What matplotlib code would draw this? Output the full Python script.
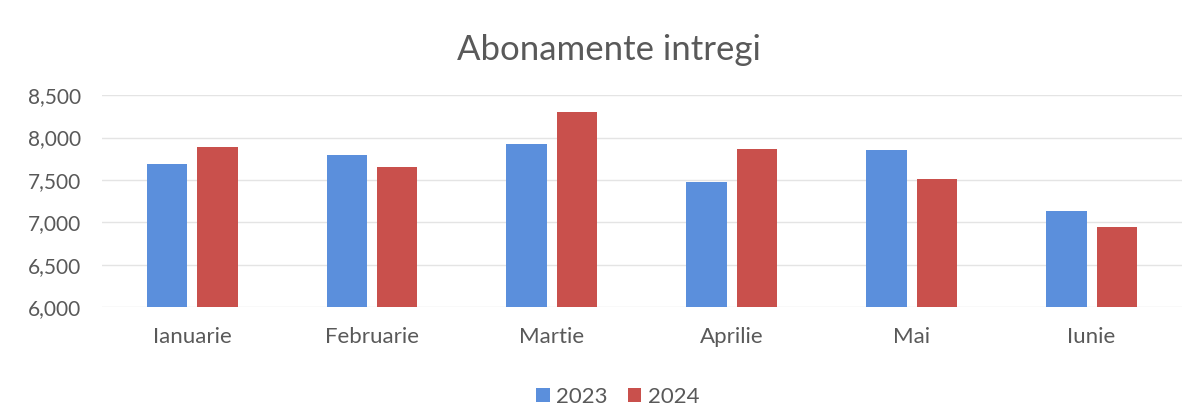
import matplotlib.pyplot as plt
import numpy as np
from matplotlib.ticker import FuncFormatter

months = ["Ianuarie", "Februarie", "Martie", "Aprilie", "Mai", "Iunie"]
years = ["2023", "2024"]
vals_2023 = [7690, 7790, 7920, 7480, 7850, 7135]
vals_2024 = [7890, 7655, 8300, 7860, 7510, 6950]

plt.rcParams['font.family'] = ['Lato', 'DejaVu Sans']
txt = "#595959"

fig = plt.figure(figsize=(12.02, 4.19), dpi=100)
ax = fig.add_axes([0.085, 0.267, 0.898, 0.506])

x = np.arange(len(months))
w = 0.225
ax.bar(x - 0.14, np.array(vals_2023) - 6000, w, bottom=6000, color="#5b8fdc", label=years[0], zorder=3)
ax.bar(x + 0.14, np.array(vals_2024) - 6000, w, bottom=6000, color="#c9504c", label=years[1], zorder=3)

ax.set_ylim(6000, 8500)
ax.set_xlim(-0.5, len(months) - 0.5)
ax.set_yticks(range(6000, 8501, 500))
ax.yaxis.set_major_formatter(FuncFormatter(lambda v, p: f"{int(v):,}"))
ax.set_xticks(x)
ax.set_xticklabels(months)
ax.grid(axis="y", color="#e4e4e4", linewidth=1, zorder=0)
for s in ax.spines.values():
    s.set_visible(False)
ax.tick_params(axis="x", length=0, labelsize=16, colors=txt, pad=14)
ax.tick_params(axis="y", length=0, labelsize=15, colors=txt, pad=15)

fig.text(0.507, 0.88, "Abonamente intregi", ha="center", va="center", fontsize=25, color=txt)
fig.legend(loc="center", bbox_to_anchor=(0.514, 0.052), ncol=2, frameon=False,
           fontsize=16, labelcolor=txt, handlelength=0.6, handleheight=0.6,
           handletextpad=0.3, columnspacing=0.9)

fig.savefig("out.png", dpi=100, facecolor="white")
